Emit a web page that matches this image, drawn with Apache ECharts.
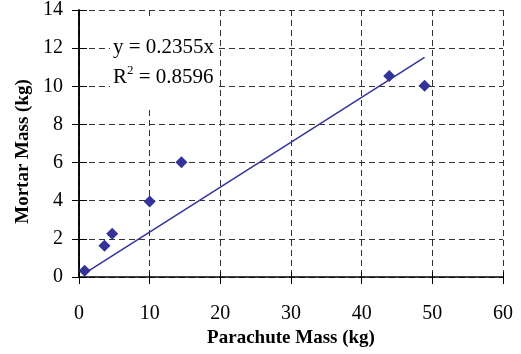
<!DOCTYPE html>
<html>
<head>
<meta charset="utf-8">
<script src="https://cdn.jsdelivr.net/npm/echarts@6/dist/echarts.min.js"></script>
<style>
    html, body { margin: 0; padding: 0; background: #fff; }
    #chart { width: 521px; height: 354px; }
</style>
</head>
<body>
<div id="chart"></div>
<script>
// values
const parachuteMass = [0.8, 3.6, 4.7, 10.0, 14.5, 43.9, 48.9]
const mortarMass = [0.33, 1.64, 2.27, 3.96, 6.02, 10.54, 10.03]
// trendline y = 0.2355x, drawn from min to max x
const trendX = [0.8, 48.9]
const trendY = [0.19, 11.52]
const equationText = 'y = 0.2355x'
const rSquaredText = ' = 0.8596'

const font = 'Liberation Serif'
const gridLine = { show: true, lineStyle: { color: '#333', type: [6, 4], width: 1 } }
const blackLine = { color: '#000', width: 1.5 }

const myChart = echarts.init(document.getElementById('chart'))
myChart.setOption({
    animation: false,
    textStyle: { fontFamily: font },
    grid: { left: 79, right: 18, top: 10, bottom: 77 },
    xAxis: [
        {
            type: 'value',
            min: 0,
            max: 60,
            interval: 10,
            name: 'Parachute Mass (kg)',
            nameLocation: 'middle',
            nameGap: 37,
            nameTextStyle: { fontFamily: font, fontSize: 19, fontWeight: 'bold', color: '#000' },
            axisLine: { show: true, onZero: false, lineStyle: blackLine },
            axisTick: { show: true, length: 7, lineStyle: { color: '#000' } },
            axisLabel: { fontFamily: font, fontSize: 20, color: '#000', margin: 27 },
            splitLine: gridLine
        },
        {
            // inner half of the crossing ticks
            type: 'value',
            position: 'bottom',
            min: 0,
            max: 60,
            interval: 10,
            axisLine: { show: false },
            axisTick: { show: true, inside: true, length: 5, lineStyle: { color: '#000' } },
            axisLabel: { show: false },
            splitLine: { show: false }
        }
    ],
    yAxis: [
        {
            type: 'value',
            min: 0,
            max: 14,
            interval: 2,
            name: 'Mortar Mass (kg)',
            nameLocation: 'middle',
            nameGap: 45,
            nameTextStyle: { fontFamily: font, fontSize: 19, fontWeight: 'bold', color: '#000', padding: [0, 16, 0, 0] },
            axisLine: { show: true, onZero: false, lineStyle: blackLine },
            axisTick: { show: true, length: 7, lineStyle: { color: '#000' } },
            axisLabel: { fontFamily: font, fontSize: 20, color: '#000', margin: 16, padding: [3, 0, 0, 0] },
            splitLine: gridLine
        },
        {
            type: 'value',
            position: 'left',
            min: 0,
            max: 14,
            interval: 2,
            axisLine: { show: false },
            axisTick: { show: true, inside: true, length: 8, lineStyle: { color: '#000' } },
            axisLabel: { show: false },
            splitLine: { show: false }
        },
        {
            type: 'value',
            position: 'right',
            min: 0,
            max: 14,
            interval: 2,
            axisLine: { show: true, lineStyle: blackLine },
            axisTick: { show: false },
            axisLabel: { show: false },
            splitLine: { show: false }
        }
    ],
    series: [
        {
            name: 'trend',
            type: 'line',
            data: trendX.map((x, i) => [x, trendY[i]]),
            symbol: 'none',
            lineStyle: { color: '#333399', width: 1.5 },
            z: 3
        },
        {
            name: 'data',
            type: 'scatter',
            data: parachuteMass.map((x, i) => [x, mortarMass[i]]),
            symbol: 'diamond',
            symbolSize: 12,
            itemStyle: { color: '#333399', opacity: 1 },
            z: 4
        }
    ],
    graphic: [
        {
            type: 'text',
            left: 110,
            top: 18,
            z: 10,
            style: {
                text: '{t|' + equationText + '}\n{t|R}{sup|2}{t|' + rSquaredText + '}',
                backgroundColor: '#fff',
                padding: [14, 3, 18, 3],
                rich: {
                    t: { fontFamily: font, fontSize: 21, color: '#000', lineHeight: 30 },
                    sup: { fontFamily: font, fontSize: 13, color: '#000', lineHeight: 30, padding: [0, 0, 12, 0] }
                }
            }
        }
    ]
})
</script>
</body>
</html>
